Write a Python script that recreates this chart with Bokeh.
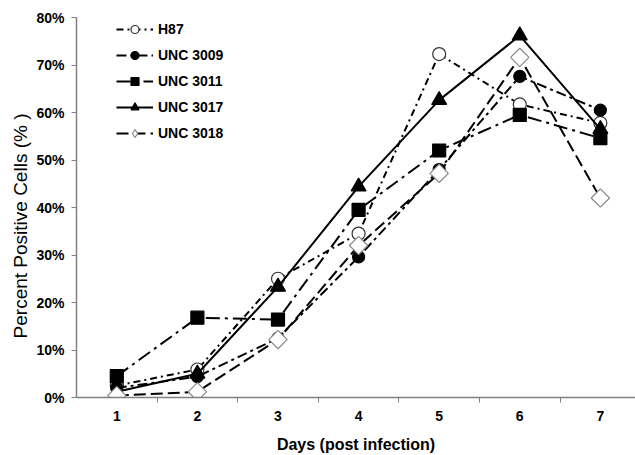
import math
from bokeh.plotting import figure
from bokeh.models import (FixedTicker, PrintfTickFormatter, Legend, LegendItem, Range1d)
from bokeh.embed import file_html
from bokeh.resources import INLINE

days = [1, 2, 3, 4, 5, 6, 7]
day_labels = ["1", "2", "3", "4", "5", "6", "7"]
y_ticks = [0, 10, 20, 30, 40, 50, 60, 70, 80]

h87 = [2.5, 5.9, 25.0, 34.5, 72.3, 61.7, 57.8]
unc3009 = [2.0, 4.4, 12.5, 29.6, 48.0, 67.6, 60.5]
unc3011 = [4.5, 16.8, 16.4, 39.5, 52.0, 59.5, 54.6]
unc3017 = [1.2, 5.0, 23.3, 44.4, 62.6, 76.2, 56.5]
unc3018 = [0.4, 1.2, 12.2, 32.0, 47.2, 71.6, 42.0]

series_names = ["H87", "UNC 3009", "UNC 3011", "UNC 3017", "UNC 3018"]

FONT = "Liberation Sans"

p = figure(width=635, height=455, output_backend="svg", toolbar_location=None,
           x_range=Range1d(0.5, 7.436), y_range=Range1d(0, 80),
           min_border_left=76, min_border_right=0, min_border_top=17, min_border_bottom=57)
p.outline_line_color = None
p.xgrid.visible = False
p.ygrid.visible = False
p.background_fill_color = "white"

styles = [
    dict(data=h87, dash="7 4 2 4", marker="circle", size=13, fill="white", edge="#333333", angle=0, lmarker="circle", lsize=11),
    dict(data=unc3009, dash="10 4 3 4", marker="circle", size=12, fill="black", edge="black", angle=0, lmarker="circle", lsize=11),
    dict(data=unc3011, dash="14 5 3 5", marker="square", size=13, fill="black", edge="black", angle=0, lmarker="square", lsize=11),
    dict(data=unc3017, dash="solid", marker="triangle", size=15, fill="black", edge="black", angle=0, lmarker="triangle", lsize=12),
    dict(data=unc3018, dash="12 5", marker="square", size=13, fill="white", edge="#888888", angle=math.pi / 4, lmarker="diamond", lsize=15),
]

items = []
nan = float("nan")
for name, st in zip(series_names, styles):
    ln = p.line(days, st["data"], line_color="black", line_width=2, line_dash=st["dash"])
    p.scatter(days, st["data"], marker=st["marker"], size=st["size"], fill_color=st["fill"],
              line_color=st["edge"], line_width=1.2, angle=st["angle"])
    # legend-only marker (not visible on the plot)
    lg = p.scatter([nan], [nan], marker=st["lmarker"], size=st["lsize"], fill_color=st["fill"],
                   line_color=st["edge"], line_width=1.2)
    items.append(LegendItem(label=name, renderers=[ln, lg]))

legend = Legend(items=items, location=(40, 254), margin=0, padding=0, spacing=6,
                glyph_width=37, glyph_height=20, label_height=20, label_standoff=5,
                border_line_color=None, background_fill_alpha=0,
                label_text_font=FONT, label_text_font_size="14px", label_text_font_style="bold",
                label_text_color="black")
p.add_layout(legend, "center")

# x axis
p.xaxis.ticker = FixedTicker(ticks=days, minor_ticks=[1.5, 2.5, 3.5, 4.5, 5.5, 6.5, 7.5])
p.xaxis.major_label_overrides = {d: l for d, l in zip(days, day_labels)}
p.xaxis.major_tick_out = 0
p.xaxis.major_tick_in = 0
p.xaxis.minor_tick_out = 5
p.xaxis.minor_tick_in = 0
p.xaxis.minor_tick_line_color = "#808080"
p.xaxis.axis_line_color = "#808080"
p.xaxis.axis_line_width = 1.5
p.xaxis.major_label_standoff = 8
p.xaxis.major_label_text_font = FONT
p.xaxis.major_label_text_font_size = "14px"
p.xaxis.major_label_text_font_style = "bold"
p.xaxis.major_label_text_color = "black"
p.xaxis.axis_label = "Days (post infection)"
p.xaxis.axis_label_text_font = FONT
p.xaxis.axis_label_text_font_size = "16px"
p.xaxis.axis_label_text_font_style = "bold"
p.xaxis.axis_label_text_color = "black"
p.xaxis.axis_label_standoff = 12

# y axis
p.yaxis.ticker = FixedTicker(ticks=y_ticks, minor_ticks=[])
p.yaxis.formatter = PrintfTickFormatter(format="%d%%")
p.yaxis.major_tick_out = 5
p.yaxis.major_tick_in = 0
p.yaxis.major_tick_line_color = "#808080"
p.yaxis.axis_line_color = "#808080"
p.yaxis.axis_line_width = 1.5
p.yaxis.major_label_standoff = 7
p.yaxis.major_label_text_font = FONT
p.yaxis.major_label_text_font_size = "14px"
p.yaxis.major_label_text_font_style = "bold"
p.yaxis.major_label_text_color = "black"
p.yaxis.axis_label = "Percent Positive Cells (% )" + "\u00a0" * 7
p.yaxis.axis_label_text_font = FONT
p.yaxis.axis_label_text_font_size = "19px"
p.yaxis.axis_label_text_font_style = "normal"
p.yaxis.axis_label_text_color = "black"
p.yaxis.axis_label_standoff = 2

open("out.html", "w").write(file_html(p, INLINE))
